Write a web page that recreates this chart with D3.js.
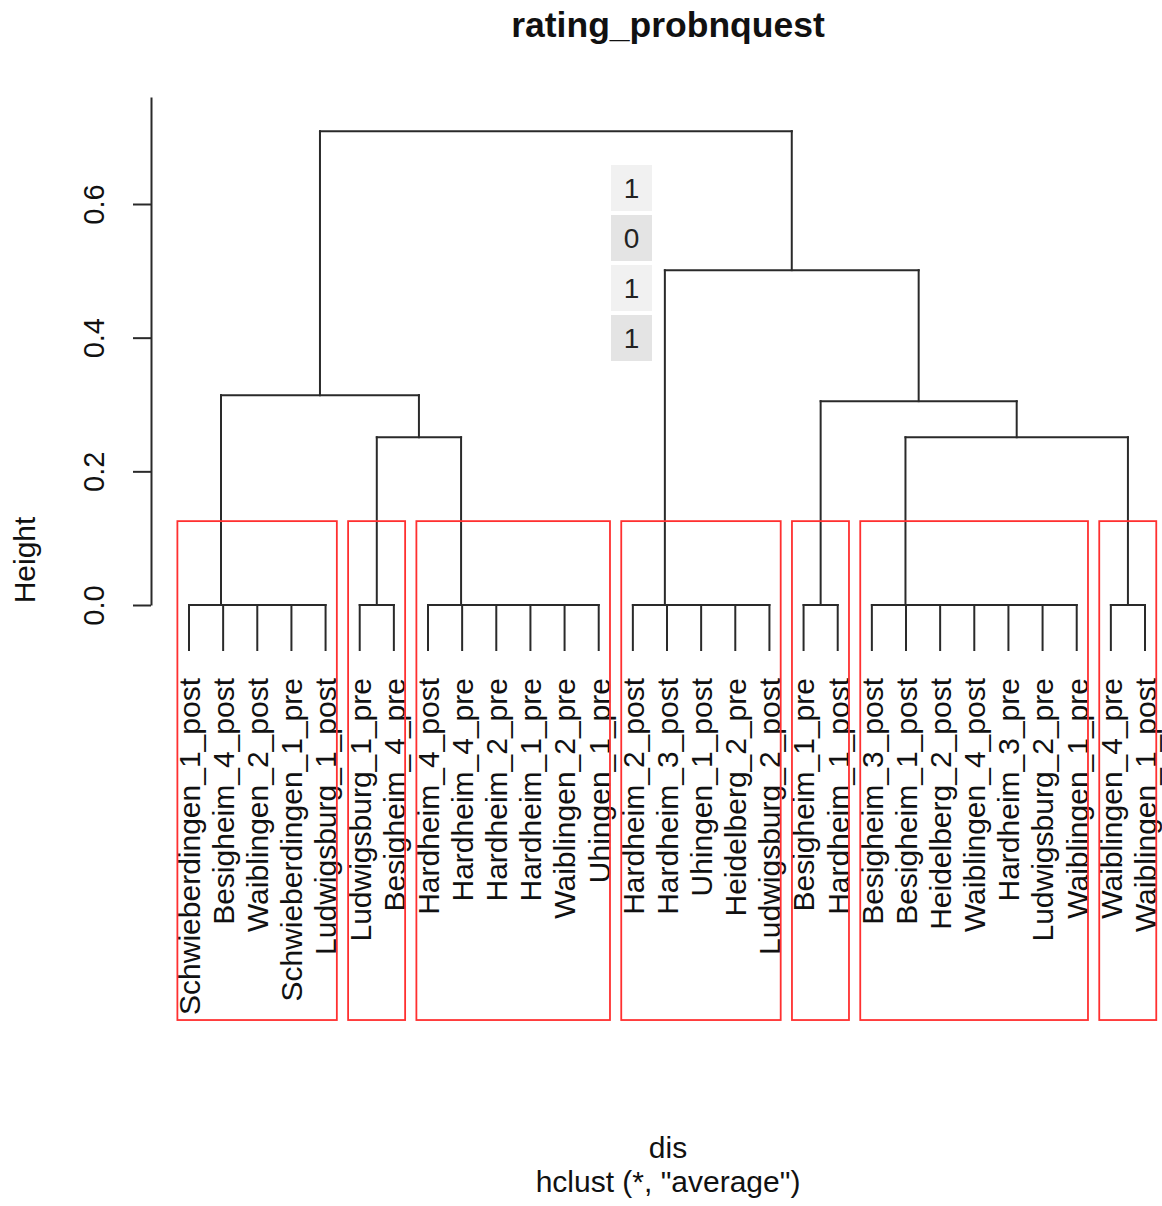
<html>
<head>
	<title>rating_probnquest</title>
	<style>
		body { margin: 0; background: white; }
		text { font-family: "Liberation Sans", Arial, sans-serif; fill: #111; }
	</style>
</head>
<body>
	<script src="https://cdnjs.cloudflare.com/ajax/libs/d3/7.8.5/d3.min.js"></script>
	<script type="text/javascript">
		// leaf labels in dendrogram order
		var labels = [
			"Schwieberdingen_1_post", "Besigheim_4_post", "Waiblingen_2_post", "Schwieberdingen_1_pre", "Ludwigsburg_1_post",
			"Ludwigsburg_1_pre", "Besigheim_4_pre",
			"Hardheim_4_post", "Hardheim_4_pre", "Hardheim_2_pre", "Hardheim_1_pre", "Waiblingen_2_pre", "Uhingen_1_pre",
			"Hardheim_2_post", "Hardheim_3_post", "Uhingen_1_post", "Heidelberg_2_pre", "Ludwigsburg_2_post",
			"Besigheim_1_pre", "Hardheim_1_post",
			"Besigheim_3_post", "Besigheim_1_post", "Heidelberg_2_post", "Waiblingen_4_post", "Hardheim_3_pre", "Ludwigsburg_2_pre", "Waiblingen_1_pre",
			"Waiblingen_4_pre", "Waiblingen_1_post"
		];
		// sizes of the groups that join at height 0
		var groupSizes = [5, 2, 6, 5, 2, 7, 2];
		// upper merges, R style: negative = group, positive = earlier merge; third = height
		var upperMerges = [
			[-2, -3, 0.251],
			[-6, -7, 0.251],
			[-5, 2, 0.305],
			[-1, 1, 0.314],
			[-4, 3, 0.501],
			[4, 5, 0.709]
		];
		var yTicks = [0, 0.2, 0.4, 0.6];
		var flagValues = ["1", "0", "1", "1"];
		var nClusters = 7;

		var W = 1162, H = 1206;
		var fs = 30;
		var hang = 0.095;
		var usrBottom = -0.621;

		var svg = d3.select("body").append("svg")
			.attr("width", W)
			.attr("height", H);

		var x = d3.scaleLinear().domain([1, labels.length]).range([189, 1145]);
		var y = d3.scaleLinear().domain([0, 0.6]).range([605, 204]);

		// build tree: inside a group the first leaf joins the rest
		function chain(idx){
			if(idx.length == 1) return {leaf: idx[0], h: 0, pos: idx[0] + 1};
			var a = chain([idx[0]]), b = chain(idx.slice(1));
			return {children: [a, b], h: 0, pos: (a.pos + b.pos)/2};
		}
		var groups = [], start = 0;
		groupSizes.forEach(function(n){
			groups.push({first: start + 1, last: start + n, node: chain(d3.range(start, start + n))});
			start += n;
		});
		var merged = [];
		upperMerges.forEach(function(m){
			var kids = [m[0], m[1]].map(function(k){ return k < 0 ? groups[-k-1].node : merged[k-1]; });
			merged.push({children: kids, h: m[2], pos: (kids[0].pos + kids[1].pos)/2});
		});
		var root = merged[merged.length - 1];

		var maxH = d3.max(upperMerges, function(m){ return m[2]; });
		var leafEnd = -hang*maxH;

		var segs = [];
		function walk(n){
			if(!n.children) return;
			segs.push([n.children[0].pos, n.h, n.children[1].pos, n.h]);
			n.children.forEach(function(c){
				var ch = c.children ? c.h : n.h + leafEnd;
				segs.push([c.pos, n.h, c.pos, ch]);
				walk(c);
			});
		}
		walk(root);

		svg.append("g").selectAll("line")
			.data(segs)
			.enter().append("line")
			.attr("x1", function(d){ return x(d[0]); })
			.attr("y1", function(d){ return y(d[1]); })
			.attr("x2", function(d){ return x(d[2]); })
			.attr("y2", function(d){ return y(d[3]); })
			.style("stroke", "#2a2a2a")
			.style("stroke-width", "2px")
			.style("stroke-linecap", "square");

		// leaf labels
		svg.append("g").selectAll("text")
			.data(labels)
			.enter().append("text")
			.attr("transform", function(d, i){
				return "translate(" + (x(i + 1) + 0.36*fs) + "," + (y(leafEnd) + 28) + ") rotate(-90)";
			})
			.attr("text-anchor", "end")
			.style("font-size", fs + "px")
			.text(function(d){ return d; });

		// rect.hclust style boxes
		var allH = upperMerges.map(function(m){ return m[2]; });
		for(var i = 0; i < labels.length - 1 - upperMerges.length; i++) allH.push(0);
		allH.sort(d3.descending);
		var cutH = (allH[nClusters - 2] + allH[nClusters - 1])/2;
		svg.append("g").selectAll("rect")
			.data(groups)
			.enter().append("rect")
			.attr("x", function(d){ return x(d.first - 0.34); })
			.attr("y", y(cutH))
			.attr("width", function(d){ return x(d.last + 0.33) - x(d.first - 0.34); })
			.attr("height", y(usrBottom) - y(cutH))
			.style("fill", "none")
			.style("stroke", "#ff3030")
			.style("stroke-width", "1.8px");

		// y axis
		var yAxisScale = y.copy().domain([0, 0.76]).range([y(0), y(0.76)]);
		var axisG = svg.append("g")
			.attr("transform", "translate(151,0)")
			.call(d3.axisLeft(yAxisScale).tickValues(yTicks).tickFormat(d3.format(".1f")).tickSize(18).tickSizeOuter(0));
		axisG.select(".domain").style("stroke", "#2a2a2a").style("stroke-width", "2px");
		axisG.selectAll(".tick line").style("stroke", "#2a2a2a").style("stroke-width", "2px");
		axisG.selectAll(".tick text")
			.attr("transform", "rotate(-90)")
			.attr("x", 0)
			.attr("y", -47)
			.attr("dy", 0)
			.attr("text-anchor", "middle")
			.style("font-family", "Liberation Sans, Arial, sans-serif")
			.style("font-size", "29px")
			.style("fill", "#111");

		svg.append("text")
			.attr("transform", "translate(35,560) rotate(-90)")
			.attr("text-anchor", "middle")
			.style("font-size", fs + "px")
			.text("Height");

		// title and sub titles
		svg.append("text")
			.attr("x", 668).attr("y", 37)
			.attr("text-anchor", "middle")
			.style("font-size", "35.5px")
			.style("font-weight", "bold")
			.text("rating_probnquest");
		svg.append("text")
			.attr("x", 668).attr("y", 1158)
			.attr("text-anchor", "middle")
			.style("font-size", fs + "px")
			.text("dis");
		svg.append("text")
			.attr("x", 668).attr("y", 1192)
			.attr("text-anchor", "middle")
			.style("font-size", fs + "px")
			.text("hclust (*, \"average\")");

		// little grey value boxes
		var flagG = svg.append("g").attr("transform", "translate(611,165)");
		flagG.selectAll("rect")
			.data(flagValues)
			.enter().append("rect")
			.attr("x", 0)
			.attr("y", function(d, i){ return i*50; })
			.attr("width", 41)
			.attr("height", 46)
			.style("fill", function(d, i){ return i % 2 ? "#e4e4e4" : "#f1f1f1"; });
		flagG.selectAll("text")
			.data(flagValues)
			.enter().append("text")
			.attr("x", 20.5)
			.attr("y", function(d, i){ return i*50 + 33; })
			.attr("text-anchor", "middle")
			.style("font-size", "28px")
			.style("fill", "#222")
			.text(function(d){ return d; });
	</script>
</body>
</html>
